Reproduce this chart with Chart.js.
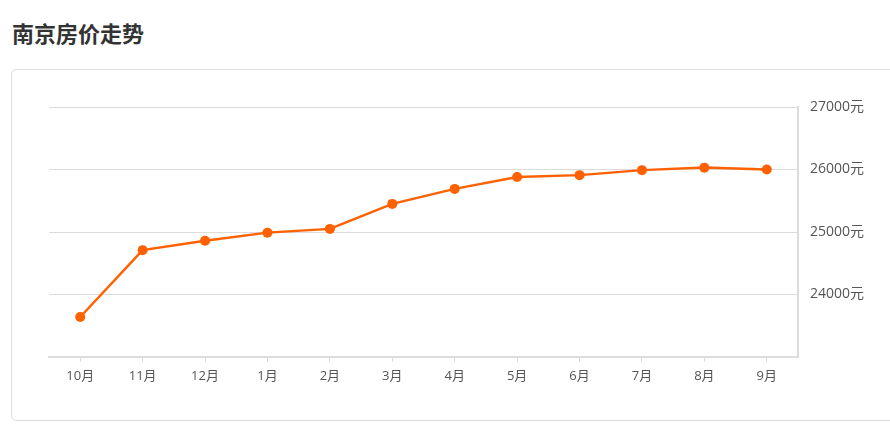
<!DOCTYPE html>
<html>
<head>
<meta charset="utf-8">
<script src="https://cdn.jsdelivr.net/npm/chart.js@4"></script>
<style>
  html, body { margin: 0; padding: 0; background: #fff; width: 890px; height: 431px; overflow: hidden; }
  #title { position: absolute; left: 12px; top: 17px; font-family: "Noto Sans CJK SC", sans-serif; font-weight: bold; font-size: 22px; line-height: 30px; color: #333; }
  #box { position: absolute; left: 11px; top: 69px; width: 900px; height: 352px; border: 1px solid #ddd; border-radius: 5px; box-sizing: border-box; }
  #wrap { position: absolute; left: 0; top: 0; width: 890px; height: 431px; }
</style>
</head>
<body>
<div id="title">南京房价走势</div>
<div id="box"></div>
<div id="wrap"><canvas id="c" width="890" height="431"></canvas></div>
<script>
const categories = ['10月', '11月', '12月', '1月', '2月', '3月', '4月', '5月', '6月', '7月', '8月', '9月'];
const prices = [23640, 24710, 24860, 24990, 25050, 25450, 25690, 25880, 25910, 25990, 26030, 26000];
const yTicks = [24000, 25000, 26000, 27000];

const fontFam = '"Open Sans", "Noto Sans CJK SC", sans-serif';

new Chart(document.getElementById('c'), {
  type: 'line',
  data: {
    labels: categories,
    datasets: [{
      data: prices,
      borderColor: '#ff6000',
      backgroundColor: '#ff6000',
      borderWidth: 2.5,
      pointRadius: 5,
      pointHoverRadius: 5,
      pointBackgroundColor: '#ff6000',
      pointBorderWidth: 0,
      tension: 0,
      fill: false
    }]
  },
  options: {
    responsive: false,
    animation: false,
    devicePixelRatio: 1,
    layout: { padding: { left: 49, top: 107, right: 0, bottom: 44 } },
    plugins: { legend: { display: false }, tooltip: { enabled: false } },
    scales: {
      x: {
        offset: true,
        border: { color: '#dcdcdc', width: 2 },
        grid: { display: true, drawOnChartArea: false, drawTicks: true, tickLength: 5, color: '#dcdcdc', offset: false },
        ticks: { color: '#555', font: { family: fontFam, size: 13 }, padding: 6, maxRotation: 0 },
        afterFit: s => { s.height = 30; }
      },
      y: {
        position: 'right',
        min: 23000,
        max: 27000,
        border: { color: '#dcdcdc', width: 2 },
        grid: { color: '#dcdcdc', drawTicks: false },
        afterBuildTicks: s => { s.ticks = yTicks.map(v => ({ value: v })); },
        ticks: { color: '#555', font: { family: fontFam, size: 14 }, padding: 12, callback: v => v + '元' },
        afterFit: s => { s.width = 92; }
      }
    }
  }
});
</script>
</body>
</html>
